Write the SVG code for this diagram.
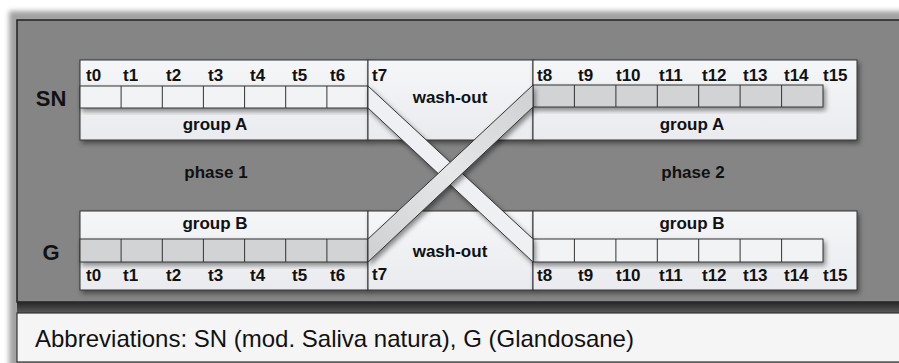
<svg xmlns="http://www.w3.org/2000/svg" width="899" height="363" viewBox="0 0 899 363">
<style>
.lbl{font-family:"Liberation Sans",Arial,sans-serif;font-weight:bold;font-size:17px;fill:#111}
.big{font-family:"Liberation Sans",Arial,sans-serif;font-weight:bold;font-size:22px;fill:#111}
.mid{text-anchor:middle}
.cap{font-family:"Liberation Sans",Arial,sans-serif;font-size:24px;fill:#111}
.box{fill:url(#boxg);stroke:#333;stroke-width:1}
.cw{fill:#f1f3f5;stroke:#333;stroke-width:1}
.cg{fill:#d2d3d4;stroke:#333;stroke-width:1}
.div{stroke:#333;stroke-width:1}
</style>
<defs>
<linearGradient id="boxg" x1="0" y1="0" x2="0" y2="1">
<stop offset="0" stop-color="#f4f6f8"/>
<stop offset="1" stop-color="#e9ebee"/>
</linearGradient>
<linearGradient id="bandg" x1="368" y1="250" x2="533" y2="96" gradientUnits="userSpaceOnUse">
<stop offset="0" stop-color="#d0d1d2"/>
<stop offset="0.5" stop-color="#e6e7e8"/>
<stop offset="1" stop-color="#d0d1d2"/>
</linearGradient>
<linearGradient id="darkband" x1="0" y1="0" x2="0" y2="1">
<stop offset="0" stop-color="#262626"/>
<stop offset="1" stop-color="#5a5a5a"/>
</linearGradient>
<filter id="sh" x="-10%" y="-20%" width="130%" height="150%">
<feDropShadow dx="2" dy="3" stdDeviation="2.5" flood-color="#000" flood-opacity="0.45"/>
</filter>
<filter id="soft" x="-5%" y="-5%" width="110%" height="110%">
<feGaussianBlur stdDeviation="2.5"/>
</filter>
</defs>

<!-- background frame -->
<rect x="0" y="0" width="899" height="363" fill="#ffffff"/>
<rect x="9" y="11" width="900" height="360" fill="#a2a2a2" filter="url(#soft)"/>
<rect x="17" y="20" width="890" height="282" fill="#858585" stroke="#222" stroke-width="1.5"/>
<rect x="17" y="302" width="890" height="11" fill="url(#darkband)"/>
<rect x="17" y="313" width="890" height="49" fill="#f5f5f5" stroke="#333" stroke-width="1.2"/>
<text class="cap" x="35" y="347">Abbreviations: SN (mod. Saliva natura), G (Glandosane)</text>

<text class="big mid" x="51" y="106">SN</text>
<text class="big mid" x="51" y="260">G</text>
<text class="lbl mid" x="216" y="178">phase 1</text>
<text class="lbl mid" x="693" y="178">phase 2</text>

<!-- SN phase 1 -->
<g id="sn-phase1">
<rect class="box" x="80" y="60" width="288" height="80" filter="url(#sh)"/>
<g filter="url(#sh)">
<rect class="cw" x="80" y="86" width="288" height="22"/>
</g>
<path class="div" d="M121.1 86V108M162.3 86V108M203.4 86V108M244.6 86V108M285.7 86V108M326.9 86V108"/>
<text class="lbl" y="81"><tspan x="86">t0</tspan><tspan x="123">t1</tspan><tspan x="166">t2</tspan><tspan x="208">t3</tspan><tspan x="250">t4</tspan><tspan x="292">t5</tspan><tspan x="330">t6</tspan></text>
<text class="lbl mid" x="215" y="130">group A</text>
</g>

<!-- SN wash-out -->
<g id="sn-washout">
<rect class="box" x="368" y="60" width="165" height="80" filter="url(#sh)"/>
<text class="lbl" x="372" y="81">t7</text>
<text class="lbl mid" x="450" y="103">wash-out</text>
</g>

<!-- SN phase 2 -->
<g id="sn-phase2">
<rect class="box" x="533" y="60" width="324" height="80" filter="url(#sh)"/>
<g filter="url(#sh)">
<rect class="cg" x="533" y="85" width="290" height="22"/>
</g>
<path class="div" d="M574.4 85V107M615.9 85V107M657.3 85V107M698.7 85V107M740.1 85V107M781.6 85V107"/>
<text class="lbl" y="81"><tspan x="537">t8</tspan><tspan x="578">t9</tspan><tspan x="616">t10</tspan><tspan x="659">t11</tspan><tspan x="702">t12</tspan><tspan x="743">t13</tspan><tspan x="784">t14</tspan><tspan x="823">t15</tspan></text>
<text class="lbl mid" x="692" y="130">group A</text>
</g>

<!-- G phase 1 -->
<g id="g-phase1">
<rect class="box" x="80" y="211" width="288" height="79" filter="url(#sh)"/>
<g filter="url(#sh)">
<rect class="cg" x="80" y="239" width="288" height="23"/>
</g>
<path class="div" d="M121.1 239V262M162.3 239V262M203.4 239V262M244.6 239V262M285.7 239V262M326.9 239V262"/>
<text class="lbl mid" x="215" y="229">group B</text>
<text class="lbl" y="281"><tspan x="86">t0</tspan><tspan x="123">t1</tspan><tspan x="166">t2</tspan><tspan x="208">t3</tspan><tspan x="250">t4</tspan><tspan x="292">t5</tspan><tspan x="330">t6</tspan></text>
</g>

<!-- G wash-out -->
<g id="g-washout">
<rect class="box" x="368" y="211" width="165" height="79" filter="url(#sh)"/>
<text class="lbl mid" x="450" y="257">wash-out</text>
<text class="lbl" x="372" y="280">t7</text>
</g>

<!-- G phase 2 -->
<g id="g-phase2">
<rect class="box" x="533" y="211" width="324" height="79" filter="url(#sh)"/>
<g filter="url(#sh)">
<rect class="cw" x="533" y="239" width="290" height="23"/>
</g>
<path class="div" d="M574.4 239V262M615.9 239V262M657.3 239V262M698.7 239V262M740.1 239V262M781.6 239V262"/>
<text class="lbl mid" x="692" y="229">group B</text>
<text class="lbl" y="281"><tspan x="537">t8</tspan><tspan x="578">t9</tspan><tspan x="616">t10</tspan><tspan x="659">t11</tspan><tspan x="702">t12</tspan><tspan x="743">t13</tspan><tspan x="784">t14</tspan><tspan x="823">t15</tspan></text>
</g>

<!-- connectors: crossover bands -->
<g id="connectors">
<polygon points="368,86 533,239 533,262 368,108" fill="#eef0f3" stroke="#333" stroke-width="1" filter="url(#sh)"/>
<polygon points="368,239 533,85 533,107 368,262" fill="url(#bandg)" stroke="#333" stroke-width="1" filter="url(#sh)"/>
</g>
</svg>
